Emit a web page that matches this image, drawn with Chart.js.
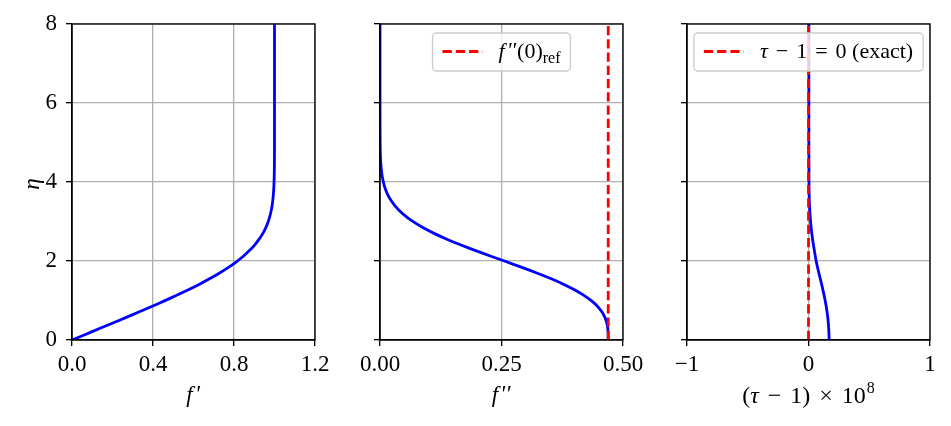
<!DOCTYPE html>
<html>
<head>
<meta charset="utf-8">
<script src="https://cdn.jsdelivr.net/npm/chart.js@4.4.0/dist/chart.umd.min.js"></script>
<style>
  html, body { margin: 0; padding: 0; background: #fff; }
  #wrap { position: relative; width: 951px; height: 426px; }
  #wrap canvas { position: absolute; left: 0; top: 0; }
</style>
</head>
<body>
<div id="wrap">
  <canvas id="c1" width="951" height="426"></canvas>
  <canvas id="c2" width="951" height="426"></canvas>
  <canvas id="c3" width="951" height="426"></canvas>
</div>
<script>
// Blasius profile, f''' + f f'' = 0
const eta = [0, 0.141, 0.283, 0.424, 0.566, 0.707, 0.849, 0.990, 1.131, 1.273, 1.414, 1.556, 1.697, 1.838, 1.980,
  2.121, 2.263, 2.404, 2.546, 2.687, 2.828, 2.970, 3.111, 3.253, 3.394, 3.536, 3.677, 3.818, 3.960, 4.101,
  4.243, 4.384, 4.525, 4.667, 4.808, 4.950, 5.5, 6, 7, 8];
const fPrime = [0, 0.06641, 0.13277, 0.19894, 0.26471, 0.32979, 0.39378, 0.45627, 0.51676, 0.57477, 0.62977,
  0.68132, 0.72899, 0.77246, 0.81152, 0.84605, 0.87609, 0.90177, 0.92333, 0.94112, 0.95552, 0.96696, 0.97587,
  0.98269, 0.98779, 0.99155, 0.99425, 0.99616, 0.99748, 0.99838, 0.99898, 0.99937, 0.99961, 0.99977, 0.99987,
  0.99992, 0.99999, 1, 1, 1];
const fDouble = [0.46960, 0.46950, 0.46877, 0.46680, 0.46300, 0.45680, 0.44772, 0.43539, 0.41955, 0.40012,
  0.37724, 0.35122, 0.32257, 0.29198, 0.26023, 0.22820, 0.19676, 0.16671, 0.13872, 0.11332, 0.09085, 0.07145,
  0.05511, 0.04169, 0.03093, 0.02250, 0.01604, 0.01121, 0.00768, 0.00516, 0.00339, 0.00219, 0.00139, 0.00086,
  0.00052, 0.00031, 0.00004, 0.00001, 0, 0];
const fDoubleRef = 0.4696;

// (tau - 1) x 1e8
const tauEta = [0, 0.25, 0.5, 0.75, 1.0, 1.25, 1.5, 1.75, 2.0, 2.25, 2.5, 2.75, 3.0, 3.25, 3.5, 3.75, 4.0, 5.0, 6.0, 7.0, 8.0];
const tauErr = [0.170, 0.167, 0.161, 0.151, 0.137, 0.120, 0.101, 0.081, 0.063, 0.049, 0.036, 0.025, 0.017,
  0.011, 0.007, 0.005, 0.004, 0.003, 0.003, 0.003, 0.003];
const tauExact = 0;

const etaTicks = [0, 2, 4, 6, 8];
const fPrimeTicks = [0, 0.4, 0.8, 1.2];
const fDoubleTicks = [0, 0.25, 0.5];
const tauTicks = [-1, 0, 1];

const FAM = '"Liberation Serif", "Times New Roman", serif';
const fnt = (p, def) => (p.it ? 'italic ' : '') + (p.size || def) + 'px ' + (p.fam || FAM);

function richWidth(ctx, parts, def) {
  let w = 0;
  parts.forEach(p => { ctx.font = fnt(p, def); w += ctx.measureText(p.t).width + (p.gap || 0); });
  return w;
}

function drawRich(ctx, parts, x, y, align, def) {
  def = def || 23;
  const w = richWidth(ctx, parts, def);
  let cx = align === 'center' ? x - w / 2 : x;
  ctx.textAlign = 'left';
  ctx.textBaseline = 'alphabetic';
  ctx.fillStyle = '#000';
  parts.forEach(p => {
    ctx.font = fnt(p, def);
    ctx.fillText(p.t, cx, y + (p.dy || 0));
    cx += ctx.measureText(p.t).width + (p.gap || 0);
  });
}

function drawLegend(chart, parts) {
  const ctx = chart.ctx, a = chart.chartArea;
  const tw = richWidth(ctx, parts, 22);
  const w = 10 + 40 + 16 + tw + 10, h = 38, r = 4;
  const x = (a.left + a.right) / 2 - w / 2, y = a.top + 9;
  ctx.save();
  ctx.beginPath();
  ctx.moveTo(x + r, y);
  ctx.arcTo(x + w, y, x + w, y + h, r);
  ctx.arcTo(x + w, y + h, x, y + h, r);
  ctx.arcTo(x, y + h, x, y, r);
  ctx.arcTo(x, y, x + w, y, r);
  ctx.closePath();
  ctx.fillStyle = 'rgba(255,255,255,0.8)';
  ctx.fill();
  ctx.strokeStyle = '#cccccc';
  ctx.lineWidth = 1.33;
  ctx.stroke();
  ctx.beginPath();
  ctx.setLineDash([9.25, 4]);
  ctx.strokeStyle = '#ff0000';
  ctx.lineWidth = 2.8;
  ctx.moveTo(x + 10, y + 18.5);
  ctx.lineTo(x + 50, y + 18.5);
  ctx.stroke();
  ctx.setLineDash([]);
  drawRich(ctx, parts, x + 66, y + 25, 'left', 22);
  ctx.restore();
}

function axis(min, max, vals, fmt, showLabels, size, isX) {
  return {
    type: 'linear', min: min, max: max,
    afterBuildTicks: s => { s.ticks = vals.map(v => ({ value: v })); },
    afterFit: s => {
      if (isX) s.height = size; else s.width = size;
      s.paddingLeft = 0; s.paddingRight = 0; s.paddingTop = 0; s.paddingBottom = 0;
    },
    ticks: {
      display: showLabels, callback: fmt, autoSkip: false, maxRotation: 0,
      font: { family: FAM, size: 23 }, color: '#000', padding: isX ? 5 : 9
    },
    grid: { color: '#b0b0b0', lineWidth: 1.33, tickColor: '#000', tickWidth: 1.33, tickLength: 6 },
    border: { display: true, color: '#000', width: 1.33 }
  };
}

const pts = (xs, ys) => xs.map((v, i) => ({ x: v, y: ys[i] }));
const blueLine = data => ({ data: data, showLine: true, borderColor: '#0000ff', borderWidth: 2.8, pointRadius: 0, tension: 0.2, fill: false });
const redLine = xv => ({ data: [{ x: xv, y: 0 }, { x: xv, y: 8 }], showLine: true, borderColor: '#ff0000', borderWidth: 2.8, borderDash: [9.25, 4], pointRadius: 0, fill: false });

function panel(id, box, xAxis, yAxis, datasets, decor) {
  return new Chart(document.getElementById(id), {
    type: 'scatter',
    data: { datasets: datasets },
    options: {
      responsive: false, animation: false, devicePixelRatio: 1, events: [],
      layout: { padding: box },
      scales: { x: xAxis, y: yAxis },
      plugins: { legend: { display: false }, tooltip: { enabled: false } }
    },
    plugins: [{
      id: 'decor' + id,
      afterDatasetsDraw(chart) {
        const ctx = chart.ctx, a = chart.chartArea;
        ctx.save();
        ctx.strokeStyle = '#000';
        ctx.lineWidth = 1.33;
        ctx.strokeRect(a.left, a.top, a.right - a.left, a.bottom - a.top);
        ctx.restore();
      },
      afterDraw(chart) { decor(chart); }
    }]
  });
}

// primes drawn as slanted apostrophes
const prime = n => ({ t: "'".repeat(n), it: true, size: 24, dy: -1, gap: 1 });

// panel 1: f'
panel('c1', { left: 0, right: 636, top: 24, bottom: 26 },
  axis(0, 1.2, fPrimeTicks, v => v.toFixed(1), true, 60, true),
  axis(0, 8, etaTicks, v => String(v), true, 72, false),
  [blueLine(pts(fPrime, eta))],
  chart => {
    const ctx = chart.ctx, a = chart.chartArea;
    drawRich(ctx, [{ t: 'f', it: true, gap: 2 }, prime(1)], (a.left + a.right) / 2, 402, 'center');
    ctx.save();
    ctx.translate(39, 184);
    ctx.rotate(-Math.PI / 2);
    drawRich(ctx, [{ t: '\u03b7', it: true }], 0, 0, 'center');
    ctx.restore();
  });

// panel 2: f''
panel('c2', { left: 368, right: 328, top: 24, bottom: 26 },
  axis(0, 0.5, fDoubleTicks, v => v.toFixed(2), true, 60, true),
  axis(0, 8, etaTicks, v => String(v), false, 12, false),
  [redLine(fDoubleRef), blueLine(pts(fDouble, eta))],
  chart => {
    const ctx = chart.ctx, a = chart.chartArea;
    drawRich(ctx, [{ t: 'f', it: true, gap: 2 }, prime(2)], (a.left + a.right) / 2, 402, 'center');
    drawLegend(chart, [{ t: 'f', it: true, gap: 2 }, Object.assign(prime(2), { size: 22 }),
      { t: '(0)' }, { t: 'ref', size: 16, dy: 5 }]);
  });

// panel 3: tau - 1
panel('c3', { left: 675, right: 21, top: 24, bottom: 26 },
  axis(-1, 1, tauTicks, v => (v < 0 ? '\u2212' + Math.abs(v) : String(v)), true, 60, true),
  axis(0, 8, etaTicks, v => String(v), false, 12, false),
  [redLine(tauExact), blueLine(pts(tauErr, tauEta))],
  chart => {
    const ctx = chart.ctx, a = chart.chartArea;
    drawRich(ctx, [{ t: '(' }, { t: '\u03c4', it: true, gap: 9 }, { t: '\u2212', gap: 9 }, { t: '1)', gap: 9 },
      { t: '\u00d7', gap: 9 }, { t: '10', gap: 1 }, { t: '8', size: 16, dy: -10 }],
      (a.left + a.right) / 2, 403, 'center', 24);
    drawLegend(chart, [{ t: '\u03c4', it: true, gap: 8 }, { t: '\u2212', gap: 8 }, { t: '1', gap: 8 },
      { t: '=', gap: 8 }, { t: '0 (exact)' }]);
  });
</script>
</body>
</html>
